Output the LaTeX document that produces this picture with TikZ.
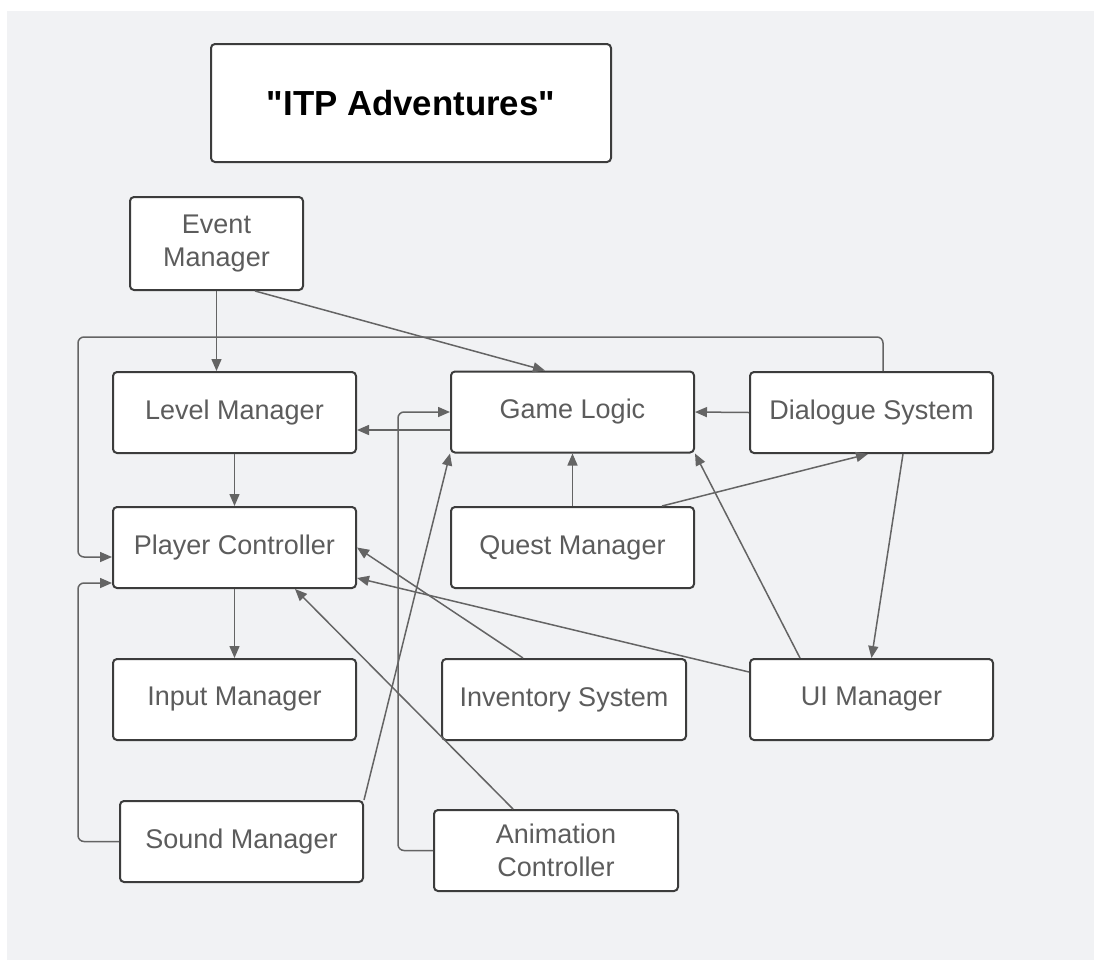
\documentclass[tikz,border=0pt]{standalone}
\usepackage{fontspec}
\setmainfont{Liberation Sans}[Ligatures=TeXOff]
\usetikzlibrary{arrows.meta,calc}
\definecolor{bg_grey}{RGB}{241, 242, 244}
\definecolor{text_grey}{RGB}{92, 92, 92}
\definecolor{line_grey}{RGB}{100, 100, 100}
\definecolor{edge_grey}{RGB}{60, 60, 60}
\tikzstyle{box}=[rectangle,rounded corners=2pt,fill=white,draw=edge_grey,
  line width=1pt,inner sep=2pt,minimum width=121.5pt,minimum height=40.5pt,
  text=text_grey,align=center,font=\fontsize{13.5}{16.5}\selectfont]
\tikzstyle{titlebox}=[box,minimum width=200pt,minimum height=59pt,
  text=black,font=\fontsize{17.4}{20}\selectfont\bfseries]
\tikzstyle{arr}=[draw=line_grey,line width=0.75pt,
  -{Triangle[length=6pt,width=5pt]}]

\begin{document}
\begin{tikzpicture}[x=0.5pt, y=-0.5pt]
            \useasboundingbox [fill=white] (0, 0) rectangle (1094, 960);
            \fill [bg_grey] (7, 11) rectangle (1094, 960);
            \node [style=titlebox] (0) at (411, 103) {"ITP Adventures"};
            \node [style=box, minimum width=86.5pt, minimum height=46.5pt] (1) at (216.5, 243.5) {Event\\Manager};
            \node [style=box] (2) at (234.5, 412.5) {Level Manager};
            \node [style=box] (3) at (572.5, 412) {Game Logic};
            \node [style=box] (4) at (871.5, 412.5) {Dialogue System};
            \node [style=box] (5) at (234.5, 547.5) {Player Controller};
            \node [style=box] (6) at (572.5, 547.5) {Quest Manager};
            \node [style=box] (7) at (234.5, 699.5) {Input Manager};
            \node [style=box, minimum width=122pt] (8) at (564, 699.5) {Inventory System};
            \node [style=box] (9) at (871.5, 699.5) {UI Manager};
            \node [style=box] (10) at (241.5, 841.5) {Sound Manager};
            \node [style=box, minimum width=122pt] (11) at (556, 850.5) {Animation\\Controller};
            \coordinate (12) at (78, 337);
            \coordinate (13) at (78, 583);
            \draw [style=arr] (1.south) to (1.south |- 2.north);
            \draw [style=arr] ([xshift=19.25pt]1.south) to ([xshift=-13.75pt]3.north);
            \draw [style=arr, rounded corners=3pt] ([xshift=5.75pt]4.north) |- (12) |- ([yshift=-4.75pt]5.west);
            \draw [style=arr, rounded corners=3pt] (10.west) -| (13) -- (13 -| 5.west);
            \draw [style=arr] (2.south) to (5.north);
            \draw [style=arr] (5.south) to (7.north);
            \draw [style=arr] ([yshift=-9pt]3.west) to ([yshift=-9pt]3.west -| 2.east);
            \draw [style=arr, rounded corners=3pt] (11.west) -| ([xshift=-26pt]3.west) -- (3.west);
            \draw [style=arr] (4.west) to (3.east);
            \draw [style=arr] (6.north) to (3.south);
            \draw [style=arr] ([xshift=44.75pt]6.north) to ([xshift=-1.75pt]4.south);
            \draw [style=arr] ([xshift=15.75pt]4.south) to (9.north);
            \draw [style=arr] ([xshift=-35.75pt]9.north) to (3.south east);
            \draw [style=arr] ([yshift=13.75pt]9.west) to ([yshift=-15.25pt]5.east);
            \draw [style=arr] ([xshift=-20.5pt]8.north) to (5.east);
            \draw [style=arr] ([xshift=-21.5pt]11.north) to ([xshift=30.25pt]5.south);
            \draw [style=arr] (10.north east) to (3.south west);
\end{tikzpicture}
\end{document}
